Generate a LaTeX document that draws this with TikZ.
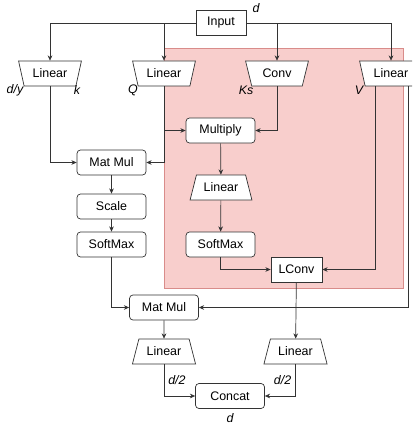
\documentclass[tikz,border=0pt]{standalone}
\usepackage{fontspec}
\setmainfont{Liberation Sans}
\usepackage{xcolor}
\usepackage{tikz}
\usetikzlibrary{arrows.meta, shapes.geometric, calc}

\definecolor{attfill}{HTML}{F8CECC}
\definecolor{attline}{HTML}{D98C8A}
\definecolor{wire}{HTML}{333333}

\begin{document}
\begin{tikzpicture}[
      x=0.03cm, y=-0.03cm,
      every node/.style={font=\fontsize{10.6}{12}\selectfont, text=black},
      arr/.style={-{Stealth[length=4.5pt, width=4pt]}, line width=0.6pt, draw=wire},
      lbl/.style={font=\fontsize{10.6}{12}\selectfont\itshape},
      box/.style={draw=wire, line width=0.6pt, fill=white, rounded corners=3pt,
                  minimum width=2.07cm, minimum height=0.75cm, inner sep=0pt},
      sqbox/.style={draw=wire, line width=0.6pt, fill=white,
                  minimum width=1.5cm, minimum height=0.75cm, inner sep=0pt},
      trapdown/.style={trapezium, draw=wire, line width=0.6pt, fill=white,
                  trapezium left angle=112, trapezium right angle=112,
                  trapezium stretches=true, minimum width=1.89cm,
                  minimum height=0.75cm, inner sep=0pt},
      trapup/.style={trapezium, draw=wire, line width=0.6pt, fill=white,
                  trapezium left angle=64, trapezium right angle=64,
                  trapezium stretches=true, minimum width=1.9cm,
                  minimum height=0.75cm, inner sep=0pt}
    ]

    \useasboundingbox (0,0) rectangle (412,426);
    \clip (0,0) rectangle (412,426);

    % ══ shaded branch ═════════════════════════════════════════════════════════
    \filldraw[fill=attfill, draw=attline, line width=0.6pt] (164,48) rectangle (403,288);

    % ══ input and projections ═════════════════════════════════════════════════
    \node[sqbox] (inp) at (221,23) {Input};
    \node[lbl] (dtop) at (256,8) {d};

    \node[trapdown] (link) at (50,73.5) {Linear};
    \node[trapdown] (linq) at (164,73.5) {Linear};
    \node[trapdown] (conv) at (277,73.5) {Conv};
    \node[trapdown] (linv) at (391,73.5) {Linear};

    \node[lbl] (ldy) at (15,90) {d/y};
    \node[lbl] (lk) at (77,90) {k};
    \node[lbl] (lq) at (133,90) {Q};
    \node[lbl] (lks) at (246,90) {Ks};
    \node[lbl] (lv) at (359,90) {V};

    \draw[arr] (inp.west) -| (link.north);
    \draw[arr] (inp.west) -| (linq.north);
    \draw[arr] (inp.east) -| (conv.north);
    \draw[arr] (inp.east) -| (linv.north);

    % ══ left branch: attention ════════════════════════════════════════════════
    \node[box] (mm1) at (111.5,162.5) {Mat Mul};
    \node[box] (scale) at (111.5,206.5) {Scale};
    \node[box] (sm1) at (111.5,244.5) {SoftMax};

    \draw[arr] (link.south) |- (mm1.west);
    \draw[arr] (linq.south) |- (mm1.east);
    \draw[arr] (mm1) -- (scale);
    \draw[arr] (scale) -- (sm1);

    % ══ right branch: dynamic conv ════════════════════════════════════════════
    \node[box] (mult) at (220.5,130.5) {Multiply};
    \node[trapup, minimum width=1.86cm] (linw) at (221,187.5) {Linear};
    \node[box] (sm2) at (220.5,244.5) {SoftMax};
    \node[sqbox, minimum width=1.53cm] (lconv) at (296.5,269.5) {LConv};

    \draw[arr] (linq.south) |- (mult.west);
    \draw[arr] (conv.south) |- (mult.east);
    \draw[arr] (mult) -- (linw);
    \draw[arr] (linw) -- (sm2);
    \draw[arr] (sm2.south) |- (lconv.west);

    \coordinate (vleft) at ($(linv.south)+(-16,0)$);
    \coordinate (vright) at ($(linv.south)+(17,0)$);
    \draw[arr] (vleft) |- (lconv.east);

    % ══ merge ═════════════════════════════════════════════════════════════════
    \node[box] (mm2) at (164,307.5) {Mat Mul};
    \node[trapup] (lin3) at (164,351.5) {Linear};
    \node[trapup] (lin4) at (295.5,351.5) {Linear};
    \node[box] (concat) at (230,396) {Concat};
    \node[lbl] (dbot) at (230,418) {d};

    \draw[arr] (sm1.south) |- (mm2.west);
    \draw[arr] (vright) |- (mm2.east);
    \draw[arr] (mm2) -- (lin3);
    \draw[arr] (lconv) -- (lin4);
    \draw[arr] (lin3.south) |- (concat.west)
      node[lbl, pos=0.25, right] {d/2};
    \draw[arr] (lin4.south) |- (concat.east)
      node[lbl, pos=0.25, left] {d/2};

  \end{tikzpicture}
\end{document}
